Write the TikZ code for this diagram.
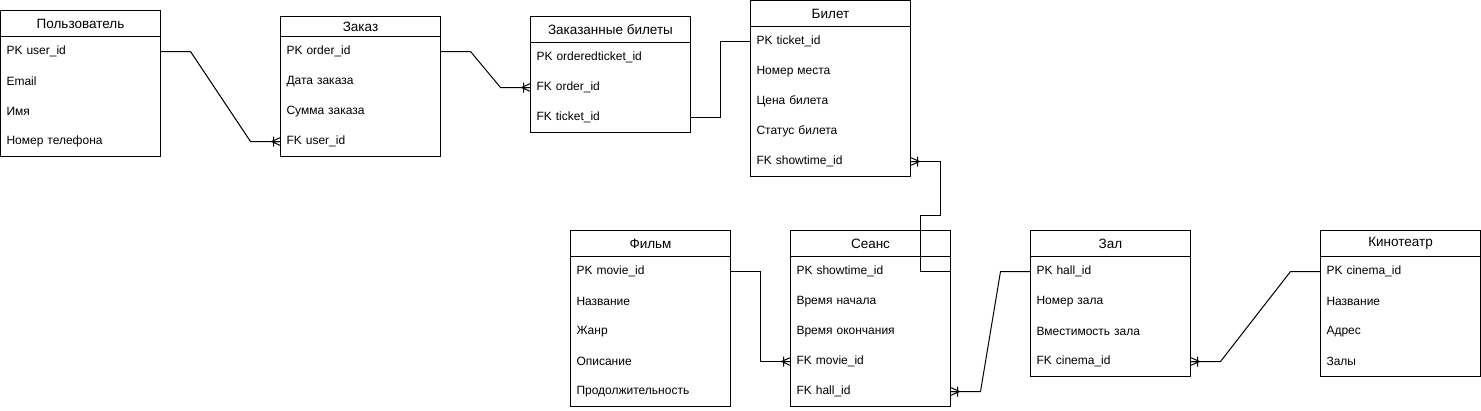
\documentclass[tikz,border=0pt]{standalone}
\usepackage{fontspec}
\setmainfont{Liberation Sans}
\newcommand\entity[6]{% #1 name, #2 x, #3 top, #4 header line, #5 bottom, #6 title
  \node[ebox, minimum height={(#5-#3)*1pt}] (#1) at (#2,#3) {};
  \draw (#2,#4) -- ++(160,0);
  \node[ttl] (#1-t) at ({#2+80},{(#3+#4)/2}) {#6};
}
\newcommand\erow[4]{% #1 name, #2 x, #3 y, #4 text
  \node[erow] (#1) at (#2,#3) {#4};
}
\begin{document}
\begin{tikzpicture}[x=1pt,y=-1pt,line width=1pt,
  ebox/.style={draw, inner sep=0pt, outer sep=0pt, anchor=north west, minimum width=160pt},
  ttl/.style={font=\fontsize{13.5}{15}\selectfont, anchor=center, inner sep=0pt},
  erow/.style={anchor=north west, minimum width=160pt, minimum height=30pt, inner xsep=6pt, inner ysep=0pt, outer sep=0pt, text width=148pt, align=left, font=\fontsize{12}{14}\selectfont},
  crow/.pic={\draw[line width=1pt] (0,-4) -- (-9,0) -- (0,4) (-9,0) -- (0,0) (-7,-5) -- (-7,5);},
  conn/.style={line width=1pt}]
\useasboundingbox (-0.5,-0.5) rectangle (1480.5,409.5);
% Пользователь
\entity{user}{0}{10}{36}{156}{Пользователь}
\erow{u1}{0}{36}{PK user\_id}
\erow{u2}{0}{66}{Email}
\erow{u3}{0}{96}{Имя}
\erow{u4}{0}{126}{Номер телефона}
% Заказ
\entity{order}{280}{16}{36}{156}{Заказ}
\erow{o1}{280}{36}{PK order\_id}
\erow{o2}{280}{66}{Дата заказа}
\erow{o3}{280}{96}{Сумма заказа}
\erow{o4}{280}{126}{FK user\_id}
% Заказанные билеты
\entity{ot}{530}{16}{42}{132}{Заказанные билеты}
\erow{ot1}{530}{42}{PK orderedticket\_id}
\erow{ot2}{530}{72}{FK order\_id}
\erow{ot3}{530}{102}{FK ticket\_id}
% Билет
\entity{ticket}{750}{0}{26}{176}{Билет}
\erow{b1}{750}{26}{PK ticket\_id}
\erow{b2}{750}{56}{Номер места}
\erow{b3}{750}{86}{Цена билета}
\erow{b4}{750}{116}{Статус билета}
\erow{b5}{750}{146}{FK showtime\_id}
% Фильм
\entity{film}{570}{230}{256}{406}{Фильм}
\erow{f1}{570}{256}{PK movie\_id}
\erow{f2}{570}{286}{Название}
\erow{f3}{570}{316}{Жанр}
\erow{f4}{570}{346}{Описание}
\erow{f5}{570}{376}{Продолжительность}
% Сеанс
\entity{show}{790}{230}{256}{406}{Сеанс}
\erow{s1}{790}{256}{PK showtime\_id}
\erow{s2}{790}{286}{Время начала}
\erow{s3}{790}{316}{Время окончания}
\erow{s4}{790}{346}{FK movie\_id}
\erow{s5}{790}{376}{FK hall\_id}
% Зал
\entity{hall}{1030}{230}{256}{376}{Зал}
\erow{h1}{1030}{256}{PK hall\_id}
\erow{h2}{1030}{286}{Номер зала}
\erow{h3}{1030}{316}{Вместимость зала}
\erow{h4}{1030}{346}{FK cinema\_id}
% Кинотеатр
\entity{cinema}{1320}{230}{256}{376}{Кинотеатр}
\erow{c1}{1320}{256}{PK cinema\_id}
\erow{c2}{1320}{286}{Название}
\erow{c3}{1320}{316}{Адрес}
\erow{c4}{1320}{346}{Залы}
% connectors
\draw[conn] (u1.east) -- ++(30,0) -- ([xshift=-30pt]o4.west) -- (o4.west);
\draw[conn] (o1.east) -- ++(30,0) -- ([xshift=-30pt]ot2.west) -- (ot2.west);
\draw[conn] (ot3.east) -- ++(30,0) |- (b1.west);
\draw[conn] (b5.east) -- ++(30,0) -- ++(0,54) -- ++(-20,0) |- (s1.east);
\draw[conn] (f1.east) -- ++(30,0) |- (s4.west);
\draw[conn] (s5.east) -- ++(30,0) -- ([xshift=-30pt]h1.west) -- (h1.west);
\draw[conn] (h4.east) -- ++(30,0) -- ([xshift=-30pt]c1.west) -- (c1.west);
% crow's feet
\pic at (o4.west) {crow};
\pic at (ot2.west) {crow};
\pic[xscale=-1] at (b5.east) {crow};
\pic at (s4.west) {crow};
\pic[xscale=-1] at (s5.east) {crow};
\pic[xscale=-1] at (h4.east) {crow};
\end{tikzpicture}
\end{document}
